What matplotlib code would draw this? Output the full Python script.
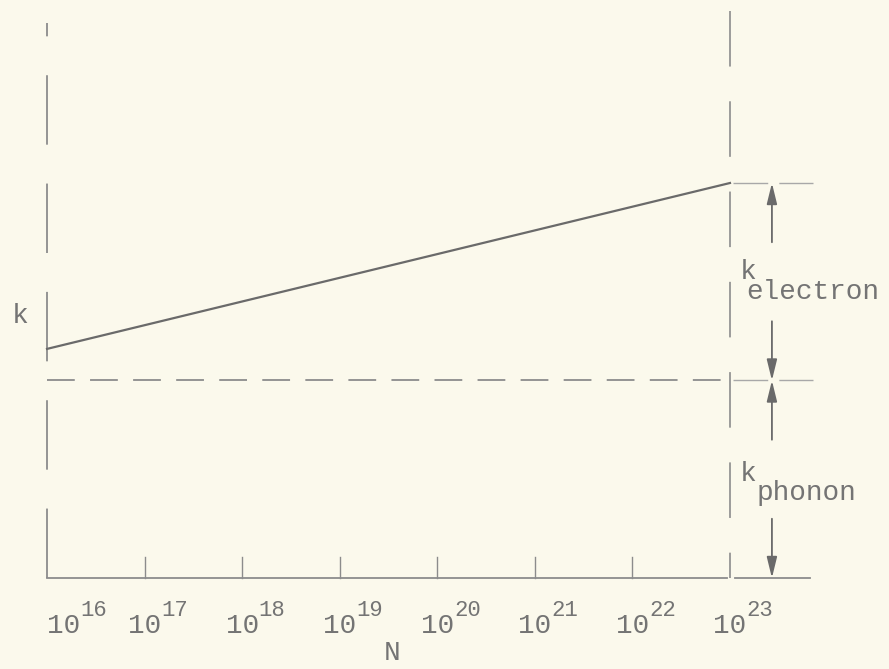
import numpy as np
import matplotlib
matplotlib.use("Agg")
import matplotlib.pyplot as plt
from matplotlib.transforms import offset_copy

# decades of N (log10) and the tick labels
decades = [16, 17, 18, 19, 20, 21, 22, 23]
exponents = ["16", "17", "18", "19", "20", "21", "22", "23"]

# conductivity levels (arbitrary units)
k_total_ends = [0.58, 1.0]   # k at N = 10^16 and 10^23
k_phonon = 0.5

plt.rcParams['lines.scale_dashes'] = False
plt.rcParams['font.family'] = ['Liberation Mono', 'DejaVu Sans Mono']

paper = '#fbf9ec'
ink = '#6a6a6a'
ink_light = '#8c8c8c'
txt = '#747474'

fig = plt.figure(figsize=(8.89, 6.69), dpi=100, facecolor=paper)
ax = fig.add_axes([0, 0, 1, 1])
ax.set_facecolor(paper)
ax.axis('off')
ax.set_xlim(15.518, 24.63)
ax.set_ylim(-0.2304, 1.4633)

x0, x1 = decades[0], decades[-1]
xr = x1 + 0.85      # right end of the small guide lines
xa = x1 + 0.43      # arrow column

# left axis (broken, typed look)
ax.plot([x0, x0], [0, 1.405], color=ink_light, lw=1.3, dashes=(50, 28))
# bottom axis
ax.plot([x0, x1 - 0.03], [0, 0], color=ink_light, lw=1.3)
ax.plot([x1 + 0.05, xr - 0.03], [0, 0], color=ink_light, lw=1.3)
# ticks
for d in decades[1:-1]:
    ax.plot([d, d], [0, 0.052], color=ink_light, lw=1.0)

# vertical line at 10^23
ax.plot([x1, x1], [1.435, 0], color=ink_light, lw=1.2, dashes=(40, 25))

# total k (solid)
ax.plot(decades[::len(decades) - 1], k_total_ends, color=ink, lw=1.6)
# phonon part (dashed)
ax.plot([x0, x1], [k_phonon, k_phonon], color=ink_light, lw=1.3, dashes=(20, 11))
# guide lines right of 10^23
ax.plot([x1 + 0.03, xr], [k_total_ends[1]] * 2, color='#a8a8a8', lw=1.0, dashes=(25, 8))
ax.plot([x1 + 0.03, xr], [k_phonon] * 2, color='#a8a8a8', lw=1.0, dashes=(25, 8))

# dimension arrows
arr = dict(arrowstyle='-|>,head_width=0.22,head_length=0.9', color=ink, lw=1.3,
           mutation_scale=14, shrinkA=0, shrinkB=0)
mid_e = (k_total_ends[1] + k_phonon) / 2
mid_p = k_phonon / 2
gap = 0.1
for mid, top, bot in [(mid_e, k_total_ends[1], k_phonon), (mid_p, k_phonon, 0)]:
    ax.annotate('', xy=(xa, top), xytext=(xa, mid + gap), arrowprops=arr)
    ax.annotate('', xy=(xa, bot), xytext=(xa, mid - gap), arrowprops=arr)

# labels k_electron / k_phonon
fs = 20
ax.text(x1 + 0.10, mid_e + 0.008, 'k', fontsize=fs, color=txt, va='baseline', ha='left')
ax.text(x1 + 0.17, mid_e - 0.044, 'electron', fontsize=fs, color=txt,
        va='baseline', ha='left')
ax.text(x1 + 0.10, mid_p - 0.004, 'k', fontsize=fs, color=txt, va='baseline', ha='left')
ax.text(x1 + 0.27, mid_p - 0.052, 'phonon', fontsize=fs, color=txt,
        va='baseline', ha='left')

# y label
ax.text(x0 - 0.36, 0.646, 'k', fontsize=fs, color=txt, va='baseline', ha='left')

# tick labels 10^n
fs_exp = 16
ylab = -0.139
cw = 0.6 * fs   # monospace char width in points
for i, (d, e) in enumerate(zip(decades, exponents)):
    ha = 'left' if i == 0 else 'center'
    ax.text(d, ylab, '10', fontsize=fs, color=txt, va='baseline', ha=ha)
    dx = 2 * cw if i == 0 else cw
    tr = offset_copy(ax.transData, fig=fig, x=dx, y=12, units='points')
    ax.text(d, ylab, e, fontsize=fs_exp, color=txt, va='baseline', ha='left',
            transform=tr)

# x label
ax.text((x0 + x1) / 2 + 0.04, -0.208, 'N', fontsize=fs, color=txt,
        va='baseline', ha='center')

fig.savefig('out.png', dpi=100, facecolor=paper)
